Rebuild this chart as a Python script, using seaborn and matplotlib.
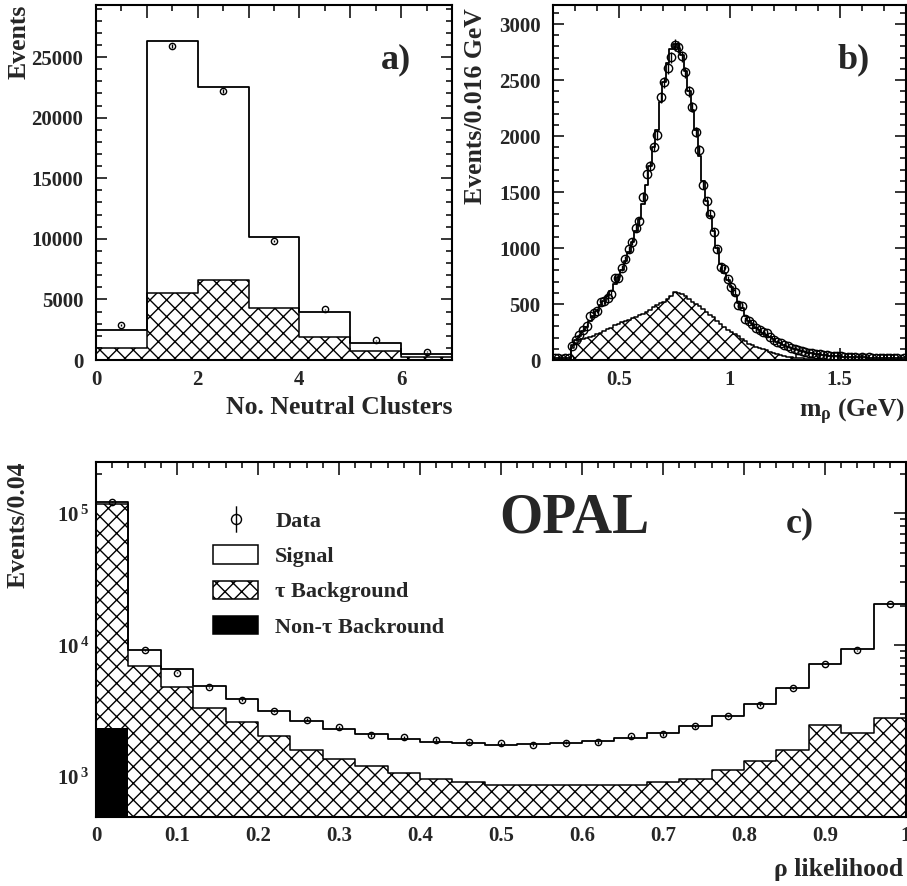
import numpy as np
import matplotlib
matplotlib.use("Agg")
import matplotlib.pyplot as plt
import seaborn as sns
from matplotlib.ticker import MultipleLocator, FuncFormatter, LogLocator, NullFormatter
from matplotlib.path import Path
from matplotlib.patches import Patch
from matplotlib.lines import Line2D

# a) number of neutral clusters (unit bins)
clu_edges = [0, 1, 2, 3, 4, 5, 6, 7]
clu_total = [2480, 26320, 22520, 10130, 3940, 1430, 470]
clu_taubg = [1020, 5510, 6610, 4270, 1930, 740, 220]
clu_data = [2890, 25880, 22220, 9830, 4185, 1650, 690]

# b) rho mass, 0.016 GeV bins from 0.2 to 1.8 GeV
mass_edges = np.round(np.arange(0.2, 1.8001, 0.016), 3)
mass_total = [14, 16, 15, 17, 18, 130, 175, 215, 255, 295,
              345, 395, 440, 490, 530, 570, 620, 680, 740, 800,
              880, 960, 1050, 1150, 1260, 1390, 1560, 1730, 1900, 2050,
              2300, 2480, 2650, 2780, 2820, 2790, 2720, 2580, 2400, 2230,
              2050, 1820, 1600, 1420, 1290, 1150, 1000, 860, 780, 710,
              650, 580, 510, 460, 390, 350, 320, 290, 265, 245,
              225, 205, 185, 165, 150, 135, 120, 108, 97, 88,
              80, 72, 66, 60, 55, 50, 46, 43, 40, 37,
              35, 33, 31, 29, 28, 26, 25, 24, 23, 22,
              21, 20, 19, 18, 17, 17, 16, 15, 15, 14]
mass_taubg = [0, 0, 0, 0, 0, 110, 150, 170, 185, 195,
              205, 215, 230, 245, 260, 275, 290, 310, 325, 340,
              350, 360, 372, 385, 400, 415, 430, 450, 470, 490,
              505, 520, 545, 575, 605, 600, 590, 570, 545, 520,
              500, 480, 455, 430, 405, 380, 350, 320, 295, 270,
              250, 230, 210, 190, 170, 145, 133, 120, 108, 96,
              85, 73, 62, 52, 44, 37, 31, 26, 22, 18,
              15, 12, 10, 8, 7, 6, 5, 4, 4, 3,
              3, 2, 2, 2, 2, 1, 1, 1, 1, 1,
              1, 1, 1, 1, 1, 0, 0, 0, 0, 0]
mass_data = [14, 18, 12, 16, 20, 125, 179, 223, 268, 304,
             393, 417, 441, 515, 527, 551, 590, 730, 730, 819,
             899, 989, 1057, 1182, 1242, 1459, 1662, 1734, 1906, 2011,
             2345, 2479, 2607, 2702, 2815, 2794, 2711, 2568, 2398, 2258,
             2032, 1877, 1564, 1421, 1302, 1144, 989, 834, 810, 721,
             655, 611, 492, 483, 366, 349, 322, 283, 268, 253,
             238, 208, 179, 164, 149, 134, 125, 104, 95, 90,
             78, 75, 62, 64, 52, 55, 44, 47, 38, 40,
             33, 36, 29, 31, 27, 28, 22, 26, 21, 24,
             19, 22, 17, 20, 16, 18, 14, 17, 13, 15]

# c) rho likelihood, 0.04 bins
lik_edges = np.round(np.arange(0, 1.0001, 0.04), 2)
lik_total = [122500, 9270, 6650, 4910, 3935, 3155, 2650, 2330, 2110, 1957,
             1857, 1812, 1741, 1793, 1825, 1889, 1991, 2160, 2428, 2925,
             3606, 4740, 7215, 9330, 20600]
lik_taubg = [117000, 6970, 4820, 3365, 2620, 2046, 1614, 1362, 1206, 1080,
             961, 923, 865, 875, 865, 865, 870, 916, 972, 1138,
             1324, 1596, 2470, 2140, 2806]
lik_nontau = [2370, 0, 0, 0, 0, 0, 0, 0, 0, 0,
              0, 0, 0, 0, 0, 0, 0, 0, 0, 0,
              0, 0, 0, 0, 0]
lik_data = [123000, 9160, 6210, 4780, 3870, 3155, 2730, 2400, 2075, 2000,
            1923, 1834, 1803, 1762, 1825, 1834, 2037, 2110, 2420, 2925,
            3548, 4760, 7260, 9160, 20700]

sns.set_style("ticks")
plt.rcParams["font.family"] = ["Liberation Serif", "DejaVu Serif"]
plt.rcParams["font.weight"] = "bold"
plt.rcParams["axes.labelweight"] = "bold"
plt.rcParams["mathtext.fontset"] = "custom"
plt.rcParams["mathtext.rm"] = "Liberation Serif:bold"
plt.rcParams["mathtext.it"] = "Liberation Serif:bold"
plt.rcParams["mathtext.bf"] = "Liberation Serif:bold"
plt.rcParams["mathtext.default"] = "rm"
plt.rcParams["hatch.linewidth"] = 1.0
plt.rcParams["hatch.color"] = "black"


def draw_stack(ax, edges, total, bg, data, nontau=None, ms=4.5):
    edges = np.asarray(edges, dtype=float)
    centers = 0.5 * (edges[:-1] + edges[1:])
    bins = edges.tolist()
    sns.histplot(x=centers, weights=total, bins=bins, element="step", fill=False,
                 color="black", linewidth=1.3, ax=ax)
    sns.histplot(x=centers, weights=bg, bins=bins, element="bars", fill=True,
                 facecolor="white", edgecolor="black", hatch="xx", linewidth=0, ax=ax)
    sns.histplot(x=centers, weights=bg, bins=bins, element="step", fill=False,
                 color="black", linewidth=1.1, ax=ax)
    if nontau is not None:
        sns.histplot(x=centers, weights=nontau, bins=bins, element="bars", fill=True,
                     facecolor="black", edgecolor="black", linewidth=0, ax=ax)
    d = np.asarray(data, dtype=float)
    ax.errorbar(centers, d, yerr=np.sqrt(d), fmt="o", ms=ms, mfc="none", mec="black",
                mew=1.0, ecolor="black", elinewidth=1.0, capsize=0, zorder=5)


def style(ax, xmaj_len=9, ymaj_len=8):
    ax.tick_params(which="both", direction="in", top=True, right=True, width=1.1,
                   labelsize=15, color="black")
    ax.tick_params(axis="x", which="major", length=xmaj_len, pad=7)
    ax.tick_params(axis="x", which="minor", length=xmaj_len / 2)
    ax.tick_params(axis="y", which="major", length=ymaj_len, pad=9)
    ax.tick_params(axis="y", which="minor", length=ymaj_len / 2)
    for s in ax.spines.values():
        s.set_linewidth(1.5)
        s.set_color("black")
    ax.set_facecolor("white")


fig = plt.figure(figsize=(9.07, 8.86), dpi=100)
W, H = 907.0, 886.0
ax_a = fig.add_axes([96 / W, 1 - 360 / H, (452 - 96) / W, (360 - 5) / H])
ax_b = fig.add_axes([553 / W, 1 - 360 / H, (906 - 553) / W, (360 - 5) / H])
ax_c = fig.add_axes([96 / W, 1 - 816.7 / H, (906 - 96) / W, (816.7 - 461.7) / H])

# ---- a) ----
draw_stack(ax_a, clu_edges, clu_total, clu_taubg, clu_data, ms=4.5)
ax_a.set_xlim(0, 7)
ax_a.set_ylim(0, 29300)
ax_a.xaxis.set_major_locator(MultipleLocator(1))
ax_a.xaxis.set_minor_locator(MultipleLocator(0.5))
ax_a.xaxis.set_major_formatter(FuncFormatter(lambda v, p: f"{v:.0f}" if round(v) % 2 == 0 else ""))
ax_a.yaxis.set_major_locator(MultipleLocator(5000))
ax_a.yaxis.set_minor_locator(MultipleLocator(1000))
style(ax_a)
ax_a.set_xlabel("No. Neutral Clusters", fontsize=18.5, loc="right")
ax_a.set_ylabel("Events", fontsize=18.5, loc="top")
ax_a.xaxis.set_label_coords(1.0, -0.1)
ax_a.yaxis.set_label_coords(-0.185, 1.0)
ax_a.text(0.843, 0.845, "a)", transform=ax_a.transAxes, fontsize=26,
          ha="center", va="center", fontweight="bold")

# ---- b) ----
draw_stack(ax_b, mass_edges, mass_total, mass_taubg, mass_data, ms=6)
ax_b.set_xlim(0.2, 1.8)
ax_b.set_ylim(0, 3170)
ax_b.xaxis.set_major_locator(MultipleLocator(0.5))
ax_b.xaxis.set_minor_locator(MultipleLocator(0.1))
ax_b.xaxis.set_major_formatter(FuncFormatter(lambda v, p: f"{v:g}"))
ax_b.yaxis.set_major_locator(MultipleLocator(500))
ax_b.yaxis.set_minor_locator(MultipleLocator(100))
style(ax_b)
ax_b.set_xlabel(r"m$_{\rho}$ (GeV)", fontsize=18.5, loc="right")
ax_b.set_ylabel("Events/0.016 GeV", fontsize=18.5, loc="top")
ax_b.xaxis.set_label_coords(0.998, -0.105)
ax_b.yaxis.set_label_coords(-0.187, 0.99)
ax_b.text(0.853, 0.845, "b)", transform=ax_b.transAxes, fontsize=26,
          ha="center", va="center", fontweight="bold")

# ---- c) ----
draw_stack(ax_c, lik_edges, lik_total, lik_taubg, lik_data, nontau=lik_nontau, ms=4.5)
ax_c.set_yscale("log")
ax_c.set_xlim(0, 1)
ax_c.set_ylim(500, 2.47e5)
ax_c.xaxis.set_major_locator(MultipleLocator(0.1))
ax_c.xaxis.set_minor_locator(MultipleLocator(0.02))
ax_c.xaxis.set_major_formatter(FuncFormatter(lambda v, p: f"{v:g}"))
ax_c.yaxis.set_major_locator(LogLocator(base=10))
ax_c.yaxis.set_minor_locator(LogLocator(base=10, subs=np.arange(2, 10)))
ax_c.yaxis.set_minor_formatter(NullFormatter())
ax_c.yaxis.set_major_formatter(FuncFormatter(lambda v, p: r"$10^{\,%d}$" % round(np.log10(v))))
style(ax_c, xmaj_len=9, ymaj_len=9)
ax_c.tick_params(axis="y", which="major", pad=5)
ax_c.set_xlabel("ρ likelihood", fontsize=18.5, loc="right")
ax_c.set_ylabel("Events/0.04", fontsize=18.5, loc="top")
ax_c.xaxis.set_label_coords(0.997, -0.116)
ax_c.yaxis.set_label_coords(-0.0815, 1.0)
ax_c.text(0.591, 0.839, "OPAL", transform=ax_c.transAxes, fontsize=40,
          ha="center", va="center", fontweight="bold")
ax_c.text(0.869, 0.824, "c)", transform=ax_c.transAxes, fontsize=26,
          ha="center", va="center", fontweight="bold")

# legend
phi = Path.make_compound_path(Path.unit_circle().transformed(
    matplotlib.transforms.Affine2D().scale(0.38)), Path([[0, -1], [0, 1]]))
handles = [
    Line2D([], [], marker=phi, markersize=19, mfc="none", mec="black", mew=1.0, linestyle="none"),
    Patch(facecolor="white", edgecolor="black", linewidth=1.1),
    Patch(facecolor="white", edgecolor="black", hatch="xx", linewidth=1.1),
    Patch(facecolor="black", edgecolor="black", linewidth=1.1),
]
labels = ["Data", "Signal", "τ Background", "Non-τ Backround"]
ax_c.legend(handles, labels, loc="upper left", bbox_to_anchor=(0.1444, 0.8635),
            frameon=False, handlelength=2.03, handleheight=0.9,
            handletextpad=0.77, labelspacing=0.6, borderpad=0, borderaxespad=0,
            prop={"weight": "bold", "size": 16})

fig.savefig("out.png", dpi=100)
